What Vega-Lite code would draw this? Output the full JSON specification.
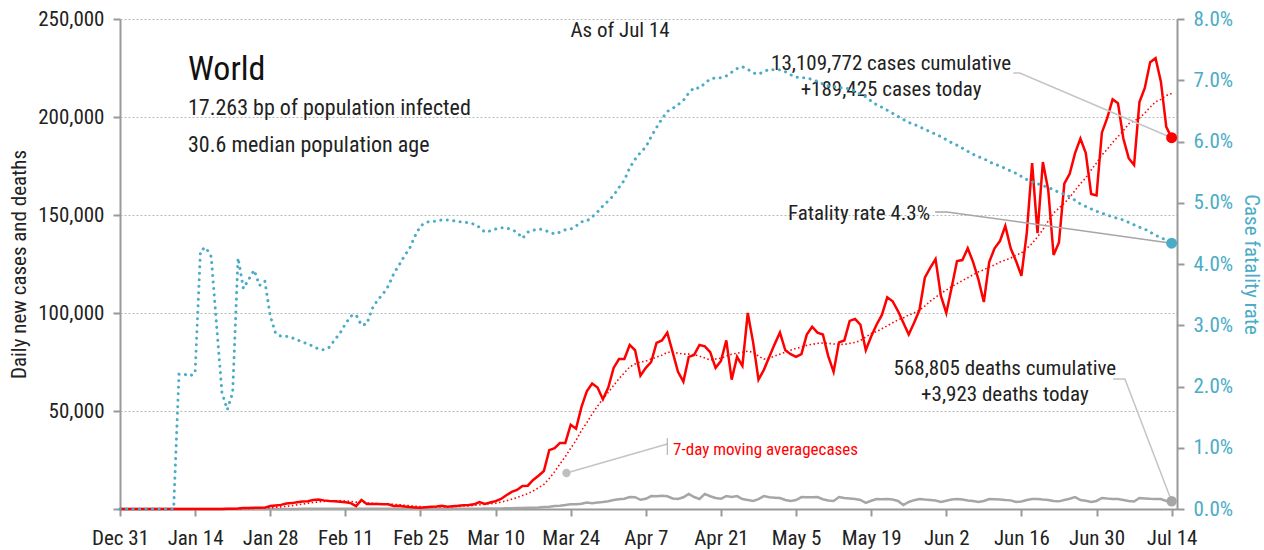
{
  "$schema": "https://vega.github.io/schema/vega-lite/v6.json",
  "width": 1057,
  "height": 490,
  "autosize": {"type": "none"},
  "padding": {"left": 120, "top": 19, "right": 87, "bottom": 41},
  "background": "white",
  "config": {
    "font": "Liberation Sans Narrow, Arial Narrow, Roboto Condensed, DejaVu Sans Condensed, Liberation Sans, sans-serif",
    "view": {"stroke": null},
    "axis": {
      "domainColor": "#999999", "domainWidth": 2, "tickColor": "#999999", "tickWidth": 2,
      "labelColor": "#222222", "labelFontSize": 21, "titleFontSize": 21, "titleFontWeight": "normal", "titleColor": "#222222"
    },
    "text": {"font": "Liberation Sans Narrow, Arial Narrow, Roboto Condensed, DejaVu Sans Condensed, Liberation Sans, sans-serif"}
  },
  "datasets": {
    "main": [
      {"date":"2019-12-31","cases":0,"avg":0,"deaths":0,"cfr":0},
      {"date":"2020-01-01","cases":0,"avg":0,"deaths":0,"cfr":0},
      {"date":"2020-01-02","cases":0,"avg":0,"deaths":0,"cfr":0},
      {"date":"2020-01-03","cases":0,"avg":0,"deaths":0,"cfr":0},
      {"date":"2020-01-04","cases":0,"avg":0,"deaths":0,"cfr":0},
      {"date":"2020-01-05","cases":0,"avg":0,"deaths":0,"cfr":0},
      {"date":"2020-01-06","cases":0,"avg":0,"deaths":0,"cfr":0},
      {"date":"2020-01-07","cases":0,"avg":0,"deaths":0,"cfr":0},
      {"date":"2020-01-08","cases":0,"avg":0,"deaths":0,"cfr":0},
      {"date":"2020-01-09","cases":0,"avg":0,"deaths":0,"cfr":0},
      {"date":"2020-01-10","cases":0,"avg":0,"deaths":0,"cfr":0},
      {"date":"2020-01-11","cases":0,"avg":0,"deaths":0,"cfr":2.20},
      {"date":"2020-01-12","cases":0,"avg":0,"deaths":0,"cfr":2.20},
      {"date":"2020-01-13","cases":0,"avg":0,"deaths":0,"cfr":2.17},
      {"date":"2020-01-14","cases":0,"avg":0,"deaths":0,"cfr":2.22},
      {"date":"2020-01-15","cases":0,"avg":0,"deaths":0,"cfr":4.22},
      {"date":"2020-01-16","cases":0,"avg":0,"deaths":0,"cfr":4.27},
      {"date":"2020-01-17","cases":0,"avg":0,"deaths":0,"cfr":4.12},
      {"date":"2020-01-18","cases":0,"avg":0,"deaths":0,"cfr":3.00},
      {"date":"2020-01-19","cases":0,"avg":0,"deaths":0,"cfr":1.90},
      {"date":"2020-01-20","cases":100,"avg":0,"deaths":0,"cfr":1.62},
      {"date":"2020-01-21","cases":150,"avg":50,"deaths":0,"cfr":1.90},
      {"date":"2020-01-22","cases":200,"avg":100,"deaths":0,"cfr":4.10},
      {"date":"2020-01-23","cases":500,"avg":200,"deaths":10,"cfr":3.60},
      {"date":"2020-01-24","cases":500,"avg":300,"deaths":15,"cfr":3.75},
      {"date":"2020-01-25","cases":600,"avg":350,"deaths":15,"cfr":3.90},
      {"date":"2020-01-26","cases":600,"avg":400,"deaths":20,"cfr":3.65},
      {"date":"2020-01-27","cases":700,"avg":500,"deaths":25,"cfr":3.72},
      {"date":"2020-01-28","cases":1500,"avg":650,"deaths":25,"cfr":3.15},
      {"date":"2020-01-29","cases":1800,"avg":850,"deaths":30,"cfr":2.87},
      {"date":"2020-01-30","cases":2100,"avg":1100,"deaths":40,"cfr":2.82},
      {"date":"2020-01-31","cases":2800,"avg":1400,"deaths":45,"cfr":2.82},
      {"date":"2020-02-01","cases":3000,"avg":1700,"deaths":50,"cfr":2.80},
      {"date":"2020-02-02","cases":3400,"avg":2100,"deaths":60,"cfr":2.76},
      {"date":"2020-02-03","cases":3800,"avg":2500,"deaths":65,"cfr":2.73},
      {"date":"2020-02-04","cases":4000,"avg":2900,"deaths":70,"cfr":2.69},
      {"date":"2020-02-05","cases":4600,"avg":3300,"deaths":75,"cfr":2.66},
      {"date":"2020-02-06","cases":4800,"avg":3600,"deaths":80,"cfr":2.61},
      {"date":"2020-02-07","cases":4400,"avg":3900,"deaths":85,"cfr":2.60},
      {"date":"2020-02-08","cases":4100,"avg":4100,"deaths":90,"cfr":2.64},
      {"date":"2020-02-09","cases":3900,"avg":4200,"deaths":95,"cfr":2.76},
      {"date":"2020-02-10","cases":3700,"avg":4200,"deaths":105,"cfr":2.87},
      {"date":"2020-02-11","cases":3400,"avg":4100,"deaths":100,"cfr":3.02},
      {"date":"2020-02-12","cases":3000,"avg":3900,"deaths":100,"cfr":3.15},
      {"date":"2020-02-13","cases":1500,"avg":3500,"deaths":120,"cfr":3.17},
      {"date":"2020-02-14","cases":4600,"avg":3500,"deaths":140,"cfr":3.00},
      {"date":"2020-02-15","cases":2600,"avg":3200,"deaths":140,"cfr":3.02},
      {"date":"2020-02-16","cases":2500,"avg":2900,"deaths":140,"cfr":3.27},
      {"date":"2020-02-17","cases":2500,"avg":2700,"deaths":100,"cfr":3.41},
      {"date":"2020-02-18","cases":2400,"avg":2600,"deaths":100,"cfr":3.51},
      {"date":"2020-02-19","cases":2400,"avg":2600,"deaths":130,"cfr":3.64},
      {"date":"2020-02-20","cases":1500,"avg":2400,"deaths":110,"cfr":3.84},
      {"date":"2020-02-21","cases":1600,"avg":2200,"deaths":110,"cfr":3.98},
      {"date":"2020-02-22","cases":1300,"avg":1900,"deaths":100,"cfr":4.13},
      {"date":"2020-02-23","cases":1000,"avg":1700,"deaths":100,"cfr":4.26},
      {"date":"2020-02-24","cases":800,"avg":1400,"deaths":150,"cfr":4.46},
      {"date":"2020-02-25","cases":600,"avg":1200,"deaths":70,"cfr":4.62},
      {"date":"2020-02-26","cases":900,"avg":1100,"deaths":60,"cfr":4.68},
      {"date":"2020-02-27","cases":1100,"avg":1000,"deaths":40,"cfr":4.70},
      {"date":"2020-02-28","cases":1300,"avg":1000,"deaths":60,"cfr":4.70},
      {"date":"2020-02-29","cases":1600,"avg":1000,"deaths":60,"cfr":4.72},
      {"date":"2020-03-01","cases":1200,"avg":1100,"deaths":60,"cfr":4.72},
      {"date":"2020-03-02","cases":1400,"avg":1200,"deaths":70,"cfr":4.71},
      {"date":"2020-03-03","cases":1600,"avg":1300,"deaths":70,"cfr":4.69},
      {"date":"2020-03-04","cases":1900,"avg":1500,"deaths":80,"cfr":4.69},
      {"date":"2020-03-05","cases":2000,"avg":1600,"deaths":100,"cfr":4.67},
      {"date":"2020-03-06","cases":2400,"avg":1900,"deaths":100,"cfr":4.65},
      {"date":"2020-03-07","cases":3500,"avg":2200,"deaths":120,"cfr":4.60},
      {"date":"2020-03-08","cases":2600,"avg":2400,"deaths":200,"cfr":4.52},
      {"date":"2020-03-09","cases":3300,"avg":2700,"deaths":250,"cfr":4.54},
      {"date":"2020-03-10","cases":4000,"avg":3000,"deaths":250,"cfr":4.57},
      {"date":"2020-03-11","cases":5100,"avg":3500,"deaths":300,"cfr":4.59},
      {"date":"2020-03-12","cases":7000,"avg":4200,"deaths":350,"cfr":4.59},
      {"date":"2020-03-13","cases":8700,"avg":5000,"deaths":400,"cfr":4.56},
      {"date":"2020-03-14","cases":9700,"avg":5800,"deaths":450,"cfr":4.52},
      {"date":"2020-03-15","cases":11700,"avg":6900,"deaths":500,"cfr":4.42},
      {"date":"2020-03-16","cases":11900,"avg":7800,"deaths":600,"cfr":4.52},
      {"date":"2020-03-17","cases":14800,"avg":9200,"deaths":700,"cfr":4.55},
      {"date":"2020-03-18","cases":17000,"avg":10800,"deaths":800,"cfr":4.57},
      {"date":"2020-03-19","cases":19400,"avg":12500,"deaths":1000,"cfr":4.56},
      {"date":"2020-03-20","cases":30000,"avg":15600,"deaths":1100,"cfr":4.52},
      {"date":"2020-03-21","cases":31000,"avg":19000,"deaths":1500,"cfr":4.49},
      {"date":"2020-03-22","cases":33700,"avg":23000,"deaths":1700,"cfr":4.52},
      {"date":"2020-03-23","cases":33700,"avg":26800,"deaths":2000,"cfr":4.56},
      {"date":"2020-03-24","cases":43000,"avg":31000,"deaths":2400,"cfr":4.57},
      {"date":"2020-03-25","cases":41000,"avg":35000,"deaths":2400,"cfr":4.62},
      {"date":"2020-03-26","cases":52000,"avg":40000,"deaths":2700,"cfr":4.69},
      {"date":"2020-03-27","cases":60000,"avg":44000,"deaths":3300,"cfr":4.70},
      {"date":"2020-03-28","cases":64000,"avg":48500,"deaths":3000,"cfr":4.77},
      {"date":"2020-03-29","cases":62000,"avg":52500,"deaths":3300,"cfr":4.85},
      {"date":"2020-03-30","cases":56000,"avg":56000,"deaths":3600,"cfr":4.95},
      {"date":"2020-03-31","cases":62000,"avg":59500,"deaths":4000,"cfr":5.03},
      {"date":"2020-04-01","cases":72000,"avg":63000,"deaths":4600,"cfr":5.12},
      {"date":"2020-04-02","cases":76500,"avg":66500,"deaths":5000,"cfr":5.25},
      {"date":"2020-04-03","cases":76500,"avg":69500,"deaths":5200,"cfr":5.37},
      {"date":"2020-04-04","cases":83700,"avg":72500,"deaths":6100,"cfr":5.57},
      {"date":"2020-04-05","cases":81000,"avg":74000,"deaths":6000,"cfr":5.71},
      {"date":"2020-04-06","cases":68000,"avg":75000,"deaths":4700,"cfr":5.82},
      {"date":"2020-04-07","cases":72000,"avg":75500,"deaths":5200,"cfr":5.91},
      {"date":"2020-04-08","cases":75000,"avg":76500,"deaths":6600,"cfr":6.08},
      {"date":"2020-04-09","cases":84700,"avg":77500,"deaths":6500,"cfr":6.23},
      {"date":"2020-04-10","cases":86000,"avg":78500,"deaths":6800,"cfr":6.37},
      {"date":"2020-04-11","cases":90000,"avg":80000,"deaths":6500,"cfr":6.49},
      {"date":"2020-04-12","cases":80000,"avg":80000,"deaths":5400,"cfr":6.54},
      {"date":"2020-04-13","cases":70000,"avg":79500,"deaths":5100,"cfr":6.60},
      {"date":"2020-04-14","cases":65000,"avg":79000,"deaths":6000,"cfr":6.67},
      {"date":"2020-04-15","cases":77600,"avg":79000,"deaths":7700,"cfr":6.79},
      {"date":"2020-04-16","cases":78600,"avg":78700,"deaths":6100,"cfr":6.88},
      {"date":"2020-04-17","cases":83700,"avg":78000,"deaths":5100,"cfr":6.87},
      {"date":"2020-04-18","cases":83000,"avg":77000,"deaths":7700,"cfr":6.95},
      {"date":"2020-04-19","cases":80000,"avg":76000,"deaths":6500,"cfr":7.02},
      {"date":"2020-04-20","cases":72000,"avg":76500,"deaths":5600,"cfr":7.04},
      {"date":"2020-04-21","cases":75500,"avg":77000,"deaths":5200,"cfr":7.04},
      {"date":"2020-04-22","cases":86000,"avg":78000,"deaths":6600,"cfr":7.07},
      {"date":"2020-04-23","cases":66000,"avg":79000,"deaths":6100,"cfr":7.13},
      {"date":"2020-04-24","cases":77600,"avg":79500,"deaths":6600,"cfr":7.19},
      {"date":"2020-04-25","cases":73000,"avg":80000,"deaths":5100,"cfr":7.22},
      {"date":"2020-04-26","cases":100000,"avg":80500,"deaths":4600,"cfr":7.18},
      {"date":"2020-04-27","cases":85000,"avg":80000,"deaths":4100,"cfr":7.12},
      {"date":"2020-04-28","cases":66000,"avg":78000,"deaths":5000,"cfr":7.10},
      {"date":"2020-04-29","cases":71000,"avg":76500,"deaths":6600,"cfr":7.14},
      {"date":"2020-04-30","cases":77600,"avg":77000,"deaths":6000,"cfr":7.18},
      {"date":"2020-05-01","cases":84000,"avg":78000,"deaths":5800,"cfr":7.17},
      {"date":"2020-05-02","cases":90000,"avg":79000,"deaths":5600,"cfr":7.17},
      {"date":"2020-05-03","cases":81000,"avg":80000,"deaths":4600,"cfr":7.14},
      {"date":"2020-05-04","cases":79000,"avg":81000,"deaths":4100,"cfr":7.09},
      {"date":"2020-05-05","cases":77600,"avg":82000,"deaths":4600,"cfr":7.05},
      {"date":"2020-05-06","cases":79000,"avg":82500,"deaths":6100,"cfr":7.04},
      {"date":"2020-05-07","cases":89000,"avg":83500,"deaths":6000,"cfr":7.04},
      {"date":"2020-05-08","cases":93000,"avg":84000,"deaths":6000,"cfr":7.01},
      {"date":"2020-05-09","cases":90000,"avg":84500,"deaths":6100,"cfr":6.98},
      {"date":"2020-05-10","cases":89000,"avg":84700,"deaths":5000,"cfr":6.94},
      {"date":"2020-05-11","cases":78000,"avg":84500,"deaths":4300,"cfr":6.91},
      {"date":"2020-05-12","cases":70000,"avg":84200,"deaths":4100,"cfr":6.90},
      {"date":"2020-05-13","cases":85000,"avg":84000,"deaths":6100,"cfr":6.88},
      {"date":"2020-05-14","cases":86000,"avg":84000,"deaths":5600,"cfr":6.87},
      {"date":"2020-05-15","cases":96000,"avg":84500,"deaths":5400,"cfr":6.86},
      {"date":"2020-05-16","cases":97000,"avg":85000,"deaths":5100,"cfr":6.82},
      {"date":"2020-05-17","cases":94000,"avg":86000,"deaths":4600,"cfr":6.77},
      {"date":"2020-05-18","cases":81000,"avg":87800,"deaths":3100,"cfr":6.73},
      {"date":"2020-05-19","cases":88000,"avg":89500,"deaths":4200,"cfr":6.66},
      {"date":"2020-05-20","cases":94000,"avg":90500,"deaths":5100,"cfr":6.60},
      {"date":"2020-05-21","cases":99000,"avg":92000,"deaths":5000,"cfr":6.56},
      {"date":"2020-05-22","cases":108000,"avg":93500,"deaths":5100,"cfr":6.51},
      {"date":"2020-05-23","cases":106000,"avg":95000,"deaths":4800,"cfr":6.46},
      {"date":"2020-05-24","cases":101000,"avg":96500,"deaths":4100,"cfr":6.41},
      {"date":"2020-05-25","cases":95000,"avg":97500,"deaths":2000,"cfr":6.36},
      {"date":"2020-05-26","cases":89000,"avg":99000,"deaths":3600,"cfr":6.31},
      {"date":"2020-05-27","cases":95000,"avg":100000,"deaths":4500,"cfr":6.28},
      {"date":"2020-05-28","cases":101500,"avg":101500,"deaths":5100,"cfr":6.24},
      {"date":"2020-05-29","cases":118000,"avg":103500,"deaths":4800,"cfr":6.20},
      {"date":"2020-05-30","cases":123000,"avg":106000,"deaths":4600,"cfr":6.16},
      {"date":"2020-05-31","cases":127500,"avg":108000,"deaths":4300,"cfr":6.12},
      {"date":"2020-06-01","cases":108700,"avg":110000,"deaths":3600,"cfr":6.08},
      {"date":"2020-06-02","cases":100000,"avg":111700,"deaths":4200,"cfr":6.03},
      {"date":"2020-06-03","cases":113000,"avg":113500,"deaths":4800,"cfr":5.98},
      {"date":"2020-06-04","cases":126500,"avg":115000,"deaths":5100,"cfr":5.94},
      {"date":"2020-06-05","cases":127000,"avg":116500,"deaths":4800,"cfr":5.89},
      {"date":"2020-06-06","cases":133000,"avg":118000,"deaths":4300,"cfr":5.84},
      {"date":"2020-06-07","cases":126000,"avg":119500,"deaths":4100,"cfr":5.79},
      {"date":"2020-06-08","cases":117000,"avg":121000,"deaths":3600,"cfr":5.75},
      {"date":"2020-06-09","cases":105600,"avg":122000,"deaths":4100,"cfr":5.72},
      {"date":"2020-06-10","cases":126000,"avg":123500,"deaths":5100,"cfr":5.67},
      {"date":"2020-06-11","cases":133000,"avg":124500,"deaths":5000,"cfr":5.63},
      {"date":"2020-06-12","cases":136700,"avg":126000,"deaths":4900,"cfr":5.60},
      {"date":"2020-06-13","cases":144400,"avg":127000,"deaths":4600,"cfr":5.56},
      {"date":"2020-06-14","cases":133000,"avg":128000,"deaths":4400,"cfr":5.52},
      {"date":"2020-06-15","cases":126500,"avg":129500,"deaths":3600,"cfr":5.48},
      {"date":"2020-06-16","cases":119000,"avg":130600,"deaths":3800,"cfr":5.43},
      {"date":"2020-06-17","cases":140800,"avg":133000,"deaths":4600,"cfr":5.38},
      {"date":"2020-06-18","cases":176500,"avg":135500,"deaths":5100,"cfr":5.34},
      {"date":"2020-06-19","cases":140800,"avg":138800,"deaths":5100,"cfr":5.31},
      {"date":"2020-06-20","cases":177000,"avg":142500,"deaths":4800,"cfr":5.28},
      {"date":"2020-06-21","cases":162800,"avg":147000,"deaths":4600,"cfr":5.25},
      {"date":"2020-06-22","cases":129600,"avg":151000,"deaths":4100,"cfr":5.21},
      {"date":"2020-06-23","cases":136000,"avg":153500,"deaths":3900,"cfr":5.17},
      {"date":"2020-06-24","cases":166000,"avg":156000,"deaths":4600,"cfr":5.14},
      {"date":"2020-06-25","cases":171000,"avg":159000,"deaths":5200,"cfr":5.10},
      {"date":"2020-06-26","cases":181600,"avg":162500,"deaths":6100,"cfr":5.04},
      {"date":"2020-06-27","cases":189000,"avg":166000,"deaths":4600,"cfr":4.98},
      {"date":"2020-06-28","cases":181600,"avg":169000,"deaths":4200,"cfr":4.94},
      {"date":"2020-06-29","cases":160700,"avg":173000,"deaths":3600,"cfr":4.90},
      {"date":"2020-06-30","cases":160000,"avg":176500,"deaths":4100,"cfr":4.86},
      {"date":"2020-07-01","cases":192000,"avg":180600,"deaths":5600,"cfr":4.83},
      {"date":"2020-07-02","cases":199500,"avg":183500,"deaths":5300,"cfr":4.80},
      {"date":"2020-07-03","cases":209000,"avg":187000,"deaths":5100,"cfr":4.77},
      {"date":"2020-07-04","cases":207000,"avg":190000,"deaths":5100,"cfr":4.74},
      {"date":"2020-07-05","cases":189000,"avg":193000,"deaths":4600,"cfr":4.72},
      {"date":"2020-07-06","cases":179000,"avg":196500,"deaths":4100,"cfr":4.68},
      {"date":"2020-07-07","cases":175500,"avg":198000,"deaths":3800,"cfr":4.64},
      {"date":"2020-07-08","cases":207600,"avg":199500,"deaths":5600,"cfr":4.60},
      {"date":"2020-07-09","cases":214800,"avg":202000,"deaths":5400,"cfr":4.57},
      {"date":"2020-07-10","cases":228000,"avg":205000,"deaths":5200,"cfr":4.52},
      {"date":"2020-07-11","cases":230000,"avg":207700,"deaths":5100,"cfr":4.47},
      {"date":"2020-07-12","cases":218000,"avg":209000,"deaths":5100,"cfr":4.43},
      {"date":"2020-07-13","cases":195000,"avg":211000,"deaths":4100,"cfr":4.39},
      {"date":"2020-07-14","cases":189425,"avg":212000,"deaths":3923,"cfr":4.34}
    ],
    "notes": [
      {"g":"world","label":"World","date":"2020-01-12T16:00:00Z","value":219000},
      {"g":"info","label":"17.263 bp of population infected","date":"2020-01-12T16:00:00Z","value":201000},
      {"g":"info","label":"30.6 median population age","date":"2020-01-12T16:00:00Z","value":182000},
      {"g":"center","label":"As of Jul 14","date":"2020-04-02T05:00:00Z","value":241000},
      {"g":"center","label":"13,109,772 cases cumulative","date":"2020-05-22T17:00:00Z","value":224000},
      {"g":"center","label":"+189,425 cases today","date":"2020-05-22T17:00:00Z","value":210700},
      {"g":"center","label":"568,805 deaths cumulative","date":"2020-06-12T22:00:00Z","value":68400},
      {"g":"center","label":"+3,923 deaths today","date":"2020-06-12T22:00:00Z","value":55100},
      {"g":"right","label":"Fatality rate 4.3%","date":"2020-05-29T23:00:00Z","value":147500},
      {"g":"ma","label":"7-day moving averagecases","date":"2020-04-12T02:00:00Z","value":27550}
    ],
    "leaders": [
      {"g":"cases","date":"2020-06-14T12:00:00Z","value":222400},
      {"g":"cases","date":"2020-06-15T17:00:00Z","value":222400},
      {"g":"cases","date":"2020-07-14","value":189425},
      {"g":"deaths","date":"2020-07-03T02:00:00Z","value":66300},
      {"g":"deaths","date":"2020-07-05T07:00:00Z","value":66300},
      {"g":"deaths","date":"2020-07-14","value":3923},
      {"g":"ma","date":"2020-03-23T05:00:00Z","value":18370},
      {"g":"ma","date":"2020-04-11T00:00:00Z","value":33160}
    ],
    "bars": [
      {"g":"bar","date":"2020-04-11T00:00:00Z","value":36200},
      {"g":"bar","date":"2020-04-11T00:00:00Z","value":27550}
    ],
    "madot": [
      {"date":"2020-03-23T05:00:00Z","value":18370}
    ],
    "cfrleader": [
      {"date":"2020-05-30T22:00:00Z","cfr":4.85},
      {"date":"2020-06-02T03:00:00Z","cfr":4.85},
      {"date":"2020-07-14","cfr":4.34}
    ]
  },
  "encoding": {
    "x": {
      "field": "date", "type": "temporal",
      "scale": {"type": "utc", "domain": [{"year": 2019, "month": 12, "date": 31, "utc": true}, {"year": 2020, "month": 7, "date": 15, "utc": true}]},
      "axis": {
        "values": [
          {"year": 2019, "month": 12, "date": 31, "utc": true},
          {"year": 2020, "month": 1, "date": 14, "utc": true},
          {"year": 2020, "month": 1, "date": 28, "utc": true},
          {"year": 2020, "month": 2, "date": 11, "utc": true},
          {"year": 2020, "month": 2, "date": 25, "utc": true},
          {"year": 2020, "month": 3, "date": 10, "utc": true},
          {"year": 2020, "month": 3, "date": 24, "utc": true},
          {"year": 2020, "month": 4, "date": 7, "utc": true},
          {"year": 2020, "month": 4, "date": 21, "utc": true},
          {"year": 2020, "month": 5, "date": 5, "utc": true},
          {"year": 2020, "month": 5, "date": 19, "utc": true},
          {"year": 2020, "month": 6, "date": 2, "utc": true},
          {"year": 2020, "month": 6, "date": 16, "utc": true},
          {"year": 2020, "month": 6, "date": 30, "utc": true},
          {"year": 2020, "month": 7, "date": 14, "utc": true}
        ],
        "format": "%b %-d", "title": null, "grid": false, "tickSize": 7, "labelPadding": 11,
        "labelOverlap": false, "labelFlush": false, "labelBound": false
      }
    }
  },
  "layer": [
    {
      "encoding": {
        "y": {
          "field": "value", "type": "quantitative",
          "scale": {"domain": [0, 250000], "nice": false},
          "axis": {
            "values": [0, 50000, 100000, 150000, 200000, 250000],
            "labelExpr": "datum.value == 0 ? '' : format(datum.value, ',')",
            "title": "Daily new cases and deaths", "grid": true, "gridDash": [2, 2], "gridColor": "#b8b8b8", "gridWidth": 1,
            "tickSize": 7, "labelPadding": 9, "titlePadding": 8
          }
        }
      },
      "layer": [
        {
          "data": {"name": "main"},
          "transform": [{"fold": ["deaths"], "as": ["series", "value"]}],
          "mark": {"type": "line", "color": "#A6A6A6", "strokeWidth": 2.5}
        },
        {
          "data": {"name": "main"},
          "transform": [{"fold": ["avg"], "as": ["series", "value"]}],
          "mark": {"type": "line", "color": "#FF0000", "strokeWidth": 1.6, "strokeDash": [1.5, 2.5]}
        },
        {
          "data": {"name": "main"},
          "transform": [{"fold": ["cases"], "as": ["series", "value"]}],
          "mark": {"type": "line", "color": "#FF0000", "strokeWidth": 2.5}
        },
        {
          "data": {"name": "leaders"},
          "mark": {"type": "line", "color": "#C4C4C4", "strokeWidth": 1.5},
          "encoding": {"detail": {"field": "g"}}
        },
        {
          "data": {"name": "bars"},
          "mark": {"type": "line", "color": "#A6A6A6", "strokeWidth": 1}
        },
        {
          "data": {"name": "madot"},
          "mark": {"type": "point", "filled": true, "color": "#BFBFBF", "size": 70, "opacity": 1}
        },
        {
          "data": {"name": "main"},
          "transform": [{"filter": "utcmonth(datum.date) == 6 && utcdate(datum.date) == 14"}, {"fold": ["cases"], "as": ["series", "value"]}],
          "mark": {"type": "point", "filled": true, "color": "#FF0000", "size": 120, "opacity": 1}
        },
        {
          "data": {"name": "main"},
          "transform": [{"filter": "utcmonth(datum.date) == 6 && utcdate(datum.date) == 14"}, {"fold": ["deaths"], "as": ["series", "value"]}],
          "mark": {"type": "point", "filled": true, "color": "#A6A6A6", "size": 110, "opacity": 1}
        },
        {
          "data": {"name": "notes"},
          "transform": [{"filter": "datum.g == 'world'"}],
          "mark": {"type": "text", "align": "left", "baseline": "alphabetic", "fontSize": 34, "color": "#111111"},
          "encoding": {"text": {"field": "label"}}
        },
        {
          "data": {"name": "notes"},
          "transform": [{"filter": "datum.g == 'info'"}],
          "mark": {"type": "text", "align": "left", "baseline": "alphabetic", "fontSize": 22, "color": "#222222"},
          "encoding": {"text": {"field": "label"}}
        },
        {
          "data": {"name": "notes"},
          "transform": [{"filter": "datum.g == 'center'"}],
          "mark": {"type": "text", "align": "center", "baseline": "alphabetic", "fontSize": 21, "color": "#222222"},
          "encoding": {"text": {"field": "label"}}
        },
        {
          "data": {"name": "notes"},
          "transform": [{"filter": "datum.g == 'right'"}],
          "mark": {"type": "text", "align": "right", "baseline": "alphabetic", "fontSize": 21, "color": "#222222"},
          "encoding": {"text": {"field": "label"}}
        },
        {
          "data": {"name": "notes"},
          "transform": [{"filter": "datum.g == 'ma'"}],
          "mark": {"type": "text", "align": "left", "baseline": "alphabetic", "fontSize": 17, "color": "#FF0000"},
          "encoding": {"text": {"field": "label"}}
        }
      ]
    },
    {
      "encoding": {
        "y": {
          "field": "cfr", "type": "quantitative",
          "scale": {"domain": [0, 8], "nice": false},
          "axis": {
            "orient": "right", "values": [0, 1, 2, 3, 4, 5, 6, 7, 8],
            "labelExpr": "format(datum.value, '.1f') + '%'",
            "title": "Case fatality rate", "grid": false,
            "labelColor": "#4BACC6", "titleColor": "#4BACC6",
            "tickSize": 7, "labelPadding": 9, "titlePadding": 8
          }
        }
      },
      "layer": [
        {
          "data": {"name": "main"},
          "mark": {"type": "line", "color": "#4BACC6", "strokeWidth": 3, "strokeDash": [0.1, 6.4], "strokeCap": "round"}
        },
        {
          "data": {"name": "cfrleader"},
          "mark": {"type": "line", "color": "#A6A6A6", "strokeWidth": 1.5}
        },
        {
          "data": {"name": "main"},
          "transform": [{"filter": "utcmonth(datum.date) == 6 && utcdate(datum.date) == 14"}],
          "mark": {"type": "point", "filled": true, "color": "#4BACC6", "size": 120, "opacity": 1}
        }
      ]
    }
  ],
  "resolve": {"scale": {"y": "independent"}}
}
